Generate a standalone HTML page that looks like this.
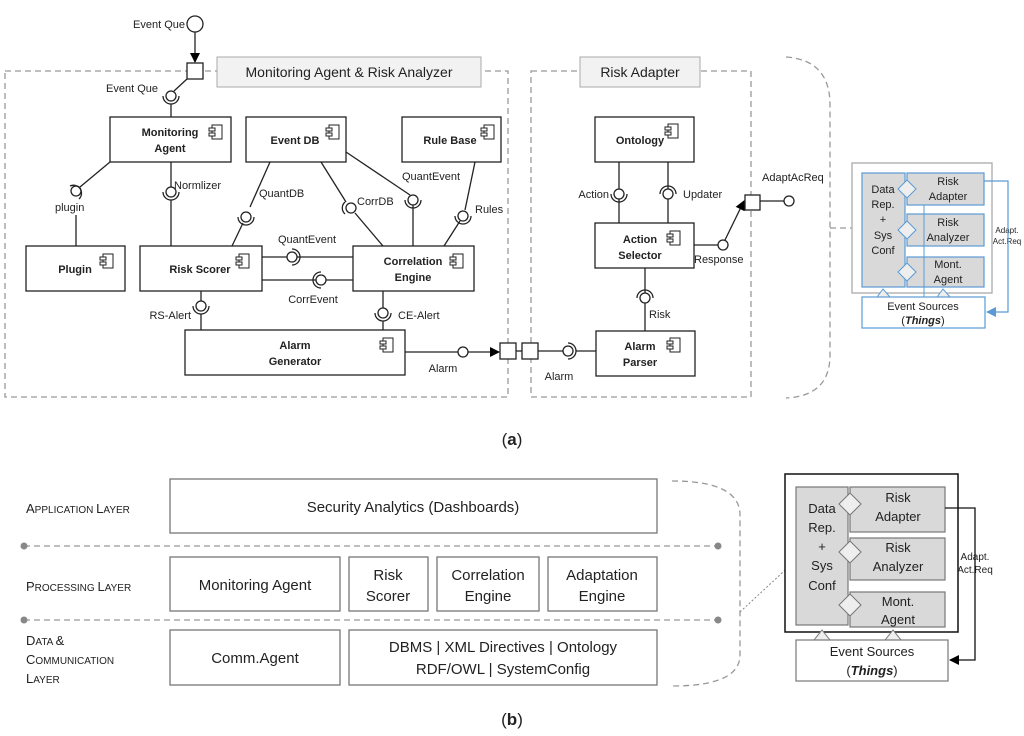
<!DOCTYPE html>
<html><head><style>
body{margin:0;background:#fff}
svg{display:block}
text{font-family:"Liberation Sans",sans-serif;fill:#222}
.b{font-weight:bold;font-size:11px}
.s{font-size:11px}
.box{fill:#fff;stroke:#222;stroke-width:1.3}
.ln{stroke:#222;stroke-width:1.3;fill:none}
.d{stroke:#999;stroke-width:1.3;fill:none;stroke-dasharray:6,4}
.gb{fill:#d9d9d9;stroke:#5b9bd5;stroke-width:1.2}
.wb{fill:#fff;stroke:#5b9bd5;stroke-width:1.2}
.g2{fill:#d9d9d9;stroke:#777;stroke-width:1.2}
.w2{fill:#fff;stroke:#777;stroke-width:1.2}
</style></head><body>
<svg width="1024" height="736" viewBox="0 0 1024 736" xmlns="http://www.w3.org/2000/svg">
<defs>
<g id="ic"><rect x="0" y="0" width="10" height="14" fill="#fff" stroke="#222"/><rect x="-3" y="3" width="6" height="3" fill="#fff" stroke="#222"/><rect x="-3" y="8" width="6" height="3" fill="#fff" stroke="#222"/></g>
<marker id="ar" markerWidth="10" markerHeight="10" refX="9" refY="5" orient="auto" markerUnits="userSpaceOnUse"><path d="M0,0 L10,5 L0,10z" fill="#000"/></marker>
<marker id="ab" markerWidth="10" markerHeight="10" refX="9" refY="5" orient="auto" markerUnits="userSpaceOnUse"><path d="M0,0 L10,5 L0,10z" fill="#5b9bd5"/></marker>
</defs>

<rect x="5" y="71" width="503" height="326" class="d"/>
<rect x="217" y="57" width="264" height="30" fill="#f2f2f2" stroke="#aaa"/>
<text x="349" y="77" text-anchor="middle" font-size="14">Monitoring Agent &amp; Risk Analyzer</text>
<rect x="531" y="71" width="220" height="326" class="d"/>
<rect x="580" y="57" width="120" height="30" fill="#f2f2f2" stroke="#aaa"/>
<text x="640" y="77" text-anchor="middle" font-size="14">Risk Adapter</text>
<path d="M786,57 Q830,60 830,105 L830,355 Q830,396 786,398" class="d"/>
<line x1="830" y1="228" x2="852" y2="228" class="d" stroke="#777"/>

<text x="185" y="28" text-anchor="end" class="s">Event Que</text>
<circle cx="195" cy="24" r="8" fill="#fff" stroke="#222" stroke-width="1.3"/>
<line x1="195" y1="32" x2="195" y2="62" class="ln" marker-end="url(#ar)"/>
<rect x="187" y="63" width="16" height="16" class="box"/>
<g class="ln">
<line x1="187" y1="79" x2="174" y2="91"/>
<circle cx="171" cy="96" r="5" fill="#fff"/>
<path d="M163,96 A8,8 0 0 0 179,96"/>
<line x1="171" y1="104" x2="171" y2="117"/>
</g>
<text x="158" y="92" text-anchor="end" class="s">Event Que</text>

<rect x="110" y="117" width="121" height="45" class="box"/><text x="170" y="136" text-anchor="middle" class="b">Monitoring</text><text x="170" y="152" text-anchor="middle" class="b">Agent</text><use href="#ic" x="212" y="125"/>
<rect x="246" y="117" width="100" height="45" class="box"/><text x="295" y="144" text-anchor="middle" class="b">Event DB</text><use href="#ic" x="329" y="125"/>
<rect x="402" y="117" width="99" height="45" class="box"/><text x="450" y="144" text-anchor="middle" class="b">Rule Base</text><use href="#ic" x="484" y="125"/>
<rect x="26" y="246" width="99" height="45" class="box"/><text x="75" y="273" text-anchor="middle" class="b">Plugin</text><use href="#ic" x="103" y="254"/>
<rect x="140" y="246" width="122" height="45" class="box"/><text x="200" y="273" text-anchor="middle" class="b">Risk Scorer</text><use href="#ic" x="239" y="254"/>
<rect x="353" y="246" width="121" height="45" class="box"/><text x="413" y="265" text-anchor="middle" class="b">Correlation</text><text x="413" y="281" text-anchor="middle" class="b">Engine</text><use href="#ic" x="453" y="254"/>
<rect x="185" y="330" width="220" height="45" class="box"/><text x="295" y="349" text-anchor="middle" class="b">Alarm</text><text x="295" y="365" text-anchor="middle" class="b">Generator</text><use href="#ic" x="383" y="338"/>

<g class="ln">
<line x1="110" y1="162" x2="80" y2="187"/><circle cx="76" cy="191" r="5" fill="#fff"/><path d="M70,186 A8,8 0 0 1 79,199"/>
<line x1="76" y1="215" x2="76" y2="246"/>
<line x1="171" y1="162" x2="171" y2="187"/><circle cx="171" cy="192" r="5" fill="#fff"/><path d="M163,192 A8,8 0 0 0 179,192"/><line x1="171" y1="200" x2="171" y2="246"/>
<line x1="270" y1="162" x2="250" y2="207"/><circle cx="246" cy="217" r="5" fill="#fff"/><path d="M238,217 A8,8 0 0 0 254,217"/><line x1="243" y1="223" x2="232" y2="246"/>
<line x1="321" y1="162" x2="346" y2="202"/><circle cx="351" cy="208" r="5" fill="#fff"/><path d="M345,214 A8,8 0 0 1 345,202"/><line x1="355" y1="213" x2="383" y2="246"/>
<line x1="346" y1="152" x2="410" y2="195"/><circle cx="413" cy="200" r="5" fill="#fff"/><path d="M405,200 A8,8 0 0 0 421,200"/><line x1="413" y1="205" x2="413" y2="246"/>
<line x1="475" y1="162" x2="465" y2="210"/><circle cx="463" cy="216" r="5" fill="#fff"/><path d="M455,216 A8,8 0 0 0 471,216"/><line x1="460" y1="221" x2="444" y2="246"/>
<line x1="262" y1="257" x2="288" y2="257"/><circle cx="292" cy="257" r="5" fill="#fff"/><path d="M292,249 A8,8 0 0 1 292,265"/><line x1="297" y1="257" x2="353" y2="257"/>
<line x1="262" y1="280" x2="316" y2="280"/><circle cx="321" cy="280" r="5" fill="#fff"/><path d="M321,272 A8,8 0 0 0 321,288"/><line x1="326" y1="280" x2="353" y2="280"/>
<line x1="201" y1="291" x2="201" y2="301"/><circle cx="201" cy="306" r="5" fill="#fff"/><path d="M193,306 A8,8 0 0 0 209,306"/><line x1="201" y1="314" x2="201" y2="330"/>
<line x1="383" y1="291" x2="383" y2="308"/><circle cx="383" cy="313" r="5" fill="#fff"/><path d="M375,313 A8,8 0 0 0 391,313"/><line x1="383" y1="321" x2="383" y2="330"/>
<line x1="405" y1="352" x2="458" y2="352"/><circle cx="463" cy="352" r="5" fill="#fff"/><line x1="468" y1="352" x2="499" y2="352" marker-end="url(#ar)"/>
<rect x="500" y="343" width="16" height="16" fill="#fff"/><rect x="522" y="343" width="16" height="16" fill="#fff"/>
<line x1="516" y1="351" x2="522" y2="351"/>
<line x1="538" y1="351" x2="563" y2="351"/><circle cx="568" cy="351" r="5" fill="#fff"/><path d="M568,343 A8,8 0 0 1 568,359"/><line x1="576" y1="351" x2="596" y2="351"/>
</g>
<g class="s">
<text x="55" y="211">plugin</text>
<text x="174" y="189">Normlizer</text>
<text x="259" y="197">QuantDB</text>
<text x="357" y="205">CorrDB</text>
<text x="402" y="180">QuantEvent</text>
<text x="475" y="213">Rules</text>
<text x="307" y="243" text-anchor="middle">QuantEvent</text>
<text x="313" y="303" text-anchor="middle">CorrEvent</text>
<text x="191" y="319" text-anchor="end">RS-Alert</text>
<text x="398" y="319">CE-Alert</text>
<text x="443" y="372" text-anchor="middle">Alarm</text>
<text x="559" y="380" text-anchor="middle">Alarm</text>
<text x="649" y="318">Risk</text>
<text x="609" y="198" text-anchor="end">Action</text>
<text x="683" y="198">Updater</text>
<text x="694" y="263">Response</text>
<text x="762" y="181">AdaptAcReq</text>
</g>

<rect x="595" y="117" width="99" height="45" class="box"/><text x="640" y="144" text-anchor="middle" class="b">Ontology</text><use href="#ic" x="668" y="124"/>
<rect x="595" y="223" width="99" height="45" class="box"/><text x="640" y="243" text-anchor="middle" class="b">Action</text><text x="640" y="259" text-anchor="middle" class="b">Selector</text><use href="#ic" x="670" y="231"/>
<rect x="596" y="331" width="99" height="45" class="box"/><text x="640" y="350" text-anchor="middle" class="b">Alarm</text><text x="640" y="366" text-anchor="middle" class="b">Parser</text><use href="#ic" x="670" y="338"/>
<g class="ln">
<line x1="619" y1="162" x2="619" y2="189"/><circle cx="619" cy="194" r="5" fill="#fff"/><path d="M611,194 A8,8 0 0 0 627,194"/><line x1="619" y1="199" x2="619" y2="223"/>
<line x1="668" y1="162" x2="668" y2="189"/><circle cx="668" cy="194" r="5" fill="#fff"/><path d="M660,194 A8,8 0 0 1 676,194"/><line x1="668" y1="199" x2="668" y2="223"/>
<line x1="694" y1="245" x2="718" y2="245"/><circle cx="723" cy="245" r="5" fill="#fff"/><line x1="725" y1="240" x2="744" y2="201" marker-end="url(#ar)"/>
<rect x="745" y="195" width="15" height="15" fill="#fff"/><line x1="760" y1="201" x2="784" y2="201"/><circle cx="789" cy="201" r="5" fill="#fff"/>
<line x1="645" y1="268" x2="645" y2="293"/><circle cx="645" cy="298" r="5" fill="#fff"/><path d="M637,298 A8,8 0 0 1 653,298"/><line x1="645" y1="303" x2="645" y2="331"/>
</g>

<rect x="852" y="163" width="140" height="130" fill="#fff" stroke="#aaa" stroke-width="1.3"/>
<rect x="862" y="173" width="43" height="114" class="gb"/>
<rect x="907" y="173" width="77" height="32" class="gb"/>
<rect x="907" y="214" width="77" height="32" class="gb"/>
<rect x="907" y="257" width="77" height="30" class="gb"/>
<line x1="924" y1="205" x2="924" y2="297" stroke="#5b9bd5"/>
<g fill="#eee" stroke="#5b9bd5"><path d="M907,180 L916,189 L907,198 L898,189z"/><path d="M907,221 L916,230 L907,239 L898,230z"/><path d="M907,263 L916,272 L907,281 L898,272z"/><path d="M877,297 L883,289 L890,297z"/><path d="M937,297 L943,289 L950,297z"/></g>
<rect x="862" y="297" width="123" height="31" class="wb"/>
<g font-size="11px">
<text x="883" y="193" text-anchor="middle">Data</text><text x="883" y="208" text-anchor="middle">Rep.</text><text x="883" y="223" text-anchor="middle">+</text><text x="883" y="239" text-anchor="middle">Sys</text><text x="883" y="254" text-anchor="middle">Conf</text>
<text x="948" y="185" text-anchor="middle">Risk</text><text x="948" y="200" text-anchor="middle">Adapter</text>
<text x="948" y="226" text-anchor="middle">Risk</text><text x="948" y="241" text-anchor="middle">Analyzer</text>
<text x="948" y="268" text-anchor="middle">Mont.</text><text x="948" y="283" text-anchor="middle">Agent</text>
<text x="923" y="310" text-anchor="middle">Event Sources</text><text x="923" y="324" text-anchor="middle">(<tspan font-weight="bold" font-style="italic">Things</tspan>)</text>
</g>
<text x="1007" y="233" text-anchor="middle" font-size="8px">Adapt.</text><text x="1007" y="244" text-anchor="middle" font-size="8px">Act.Req</text>
<polyline points="984,181 1008,181 1008,312 987,312" fill="none" stroke="#5b9bd5" stroke-width="1.2" marker-end="url(#ab)"/>

<text x="512" y="445" text-anchor="middle" font-family="Liberation Serif" font-size="17">(<tspan font-weight="bold">a</tspan>)</text>

<g font-size="13px">
<text x="26" y="513">A<tspan font-size="10px">PPLICATION </tspan>L<tspan font-size="10px">AYER</tspan></text>
<text x="26" y="591">P<tspan font-size="10px">ROCESSING </tspan>L<tspan font-size="10px">AYER</tspan></text>
<text x="26" y="645">D<tspan font-size="10px">ATA </tspan>&amp;</text>
<text x="26" y="664">C<tspan font-size="10px">OMMUNICATION</tspan></text>
<text x="26" y="683">L<tspan font-size="10px">AYER</tspan></text>
</g>
<g stroke="#777" stroke-width="1.3" fill="#fff">
<rect x="170" y="479" width="487" height="54"/>
<rect x="170" y="557" width="170" height="54"/><rect x="349" y="557" width="79" height="54"/><rect x="437" y="557" width="102" height="54"/><rect x="548" y="557" width="109" height="54"/>
<rect x="170" y="630" width="170" height="55"/><rect x="349" y="630" width="308" height="55"/>
</g>
<line x1="24" y1="546" x2="718" y2="546" class="d" stroke="#888"/><circle cx="24" cy="546" r="3.5" fill="#888"/><circle cx="718" cy="546" r="3.5" fill="#888"/>
<line x1="24" y1="620" x2="718" y2="620" class="d" stroke="#888"/><circle cx="24" cy="620" r="3.5" fill="#888"/><circle cx="718" cy="620" r="3.5" fill="#888"/>
<path d="M672,481 Q740,481 740,515 L740,655 Q740,686 672,686" class="d" stroke="#888"/>
<line x1="740" y1="612" x2="796" y2="560" stroke="#888" stroke-dasharray="2,2"/>
<g font-size="15px" text-anchor="middle">
<text x="413" y="512">Security Analytics (Dashboards)</text>
<text x="255" y="590">Monitoring Agent</text>
<text x="388" y="580">Risk</text><text x="388" y="601">Scorer</text>
<text x="488" y="580">Correlation</text><text x="488" y="601">Engine</text>
<text x="602" y="580">Adaptation</text><text x="602" y="601">Engine</text>
<text x="255" y="663">Comm.Agent</text>
<text x="503" y="652">DBMS | XML Directives | Ontology</text>
<text x="503" y="674">RDF/OWL | SystemConfig</text>
</g>

<rect x="785" y="474" width="173" height="158" fill="#fff" stroke="#111" stroke-width="1.5"/>
<rect x="796" y="487" width="52" height="138" class="g2"/>
<rect x="850" y="487" width="95" height="45" class="g2"/>
<rect x="850" y="538" width="95" height="42" class="g2"/>
<rect x="850" y="592" width="95" height="35" class="g2"/>
<g fill="#eee" stroke="#777"><path d="M850,493 L861,504 L850,515 L839,504z"/><path d="M850,541 L861,552 L850,563 L839,552z"/><path d="M850,594 L861,605 L850,616 L839,605z"/><path d="M814,640 L822,630 L830,640z"/><path d="M885,640 L893,630 L901,640z"/></g>
<rect x="796" y="640" width="152" height="41" class="w2"/>
<g font-size="13px" text-anchor="middle">
<text x="822" y="513">Data</text><text x="822" y="532">Rep.</text><text x="822" y="551">+</text><text x="822" y="570">Sys</text><text x="822" y="590">Conf</text>
<text x="898" y="502">Risk</text><text x="898" y="521">Adapter</text>
<text x="898" y="552">Risk</text><text x="898" y="571">Analyzer</text>
<text x="898" y="606">Mont.</text><text x="898" y="624">Agent</text>
<text x="872" y="656">Event Sources</text><text x="872" y="675">(<tspan font-weight="bold" font-style="italic">Things</tspan>)</text>
</g>
<text x="975" y="560" text-anchor="middle" font-size="10px">Adapt.</text><text x="975" y="573" text-anchor="middle" font-size="10px">Act.Req</text>
<polyline points="945,508 975,508 975,660 950,660" fill="none" stroke="#111" stroke-width="1.3" marker-end="url(#ar)"/>

<text x="512" y="725" text-anchor="middle" font-family="Liberation Serif" font-size="17">(<tspan font-weight="bold">b</tspan>)</text>
</svg>
</body></html>
